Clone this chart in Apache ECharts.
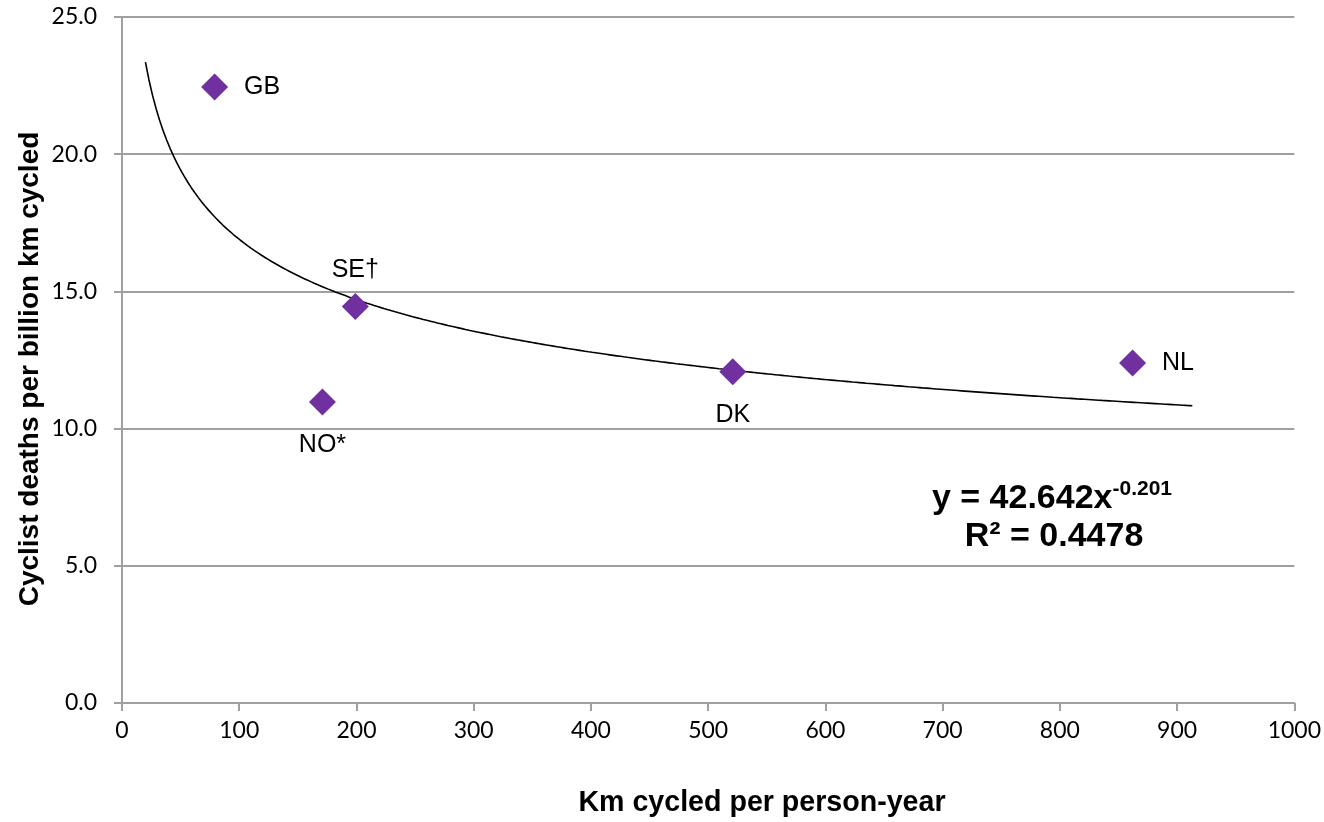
<!DOCTYPE html>
<html><head><meta charset="utf-8">
<script src="https://cdn.jsdelivr.net/npm/echarts@6/dist/echarts.min.js"></script>
<style>html,body{margin:0;padding:0;background:#fff}#c{width:1324px;height:822px}</style>
</head><body><div id="c"></div>
<script>
const countries = ['GB', 'SE†', 'NO*', 'DK', 'NL'];
const kmPerPerson = [79, 199, 171, 521, 862];
const deathsPerBillion = [22.45, 14.45, 10.97, 12.07, 12.39];
const labelPos = ['right', 'top', 'bottom', 'bottom', 'right'];
const trendCoef = 42.642;
const trendExp = -0.201;
const trendRange = [20, 913];
const yTicks = ['0.0', '5.0', '10.0', '15.0', '20.0', '25.0'];

const trend = [];
for (let x = trendRange[0]; x <= trendRange[1]; x += 3) trend.push([x, trendCoef * Math.pow(x, trendExp)]);
trend.push([trendRange[1], trendCoef * Math.pow(trendRange[1], trendExp)]);

const labelDist = { right: 16, top: 10, bottom: 17 };
const pts = kmPerPerson.map((x, i) => ({
  value: [x, deathsPerBillion[i]], name: countries[i],
  label: { position: labelPos[i], distance: labelDist[labelPos[i]] }
}));

const chart = echarts.init(document.getElementById('c'));
chart.setOption({
  animation: false,
  grid: { left: 122, right: 29, top: 17, bottom: 119, containLabel: false },
  xAxis: {
    type: 'value', min: 0, max: 1000, interval: 100,
    axisLine: { show: true, lineStyle: { color: '#a0a0a0', width: 2 } },
    axisTick: { show: true, length: 8, lineStyle: { color: '#a0a0a0', width: 2 } },
    splitLine: { show: false },
    axisLabel: { color: '#000', fontSize: 23, fontFamily: 'Lato', margin: 16, formatter: v => String(v) }
  },
  yAxis: {
    type: 'value', min: 0, max: 25, interval: 5,
    axisLine: { show: true, lineStyle: { color: '#a0a0a0', width: 2 } },
    axisTick: { show: true, length: 8, lineStyle: { color: '#a0a0a0', width: 2 } },
    splitLine: { show: true, lineStyle: { color: '#a0a0a0', width: 2 } },
    axisLabel: { color: '#000', fontSize: 23, fontFamily: 'Lato', margin: 25,
      formatter: v => yTicks[Math.round(v / 5)] }
  },
  series: [
    { type: 'line', data: trend, showSymbol: false, smooth: false,
      lineStyle: { color: '#000', width: 1.6 }, silent: true, z: 2 },
    { type: 'scatter', data: pts, symbol: 'diamond', symbolSize: 27,
      itemStyle: { color: '#7030A0', opacity: 1 }, z: 3,
      label: { show: true, formatter: p => p.name, color: '#000', opacity: 1, fontSize: 25,
        fontFamily: 'Liberation Sans' } }
  ],
  graphic: [
    { type: 'text', x: 762, y: 803, style: { text: 'Km cycled per person-year', fill: '#000',
      font: 'bold 28.6px "Liberation Sans"', align: 'center', verticalAlign: 'middle' } },
    { type: 'text', x: 30, y: 369, rotation: Math.PI / 2, style: { text: 'Cyclist deaths per billion km cycled',
      fill: '#000', font: 'bold 28px "Liberation Sans"', align: 'center', verticalAlign: 'middle' } },
    { type: 'text', x: 1052, y: 497, style: { text: '{b|y = 42.642x}{s|-0.201}', align: 'center', verticalAlign: 'middle',
      rich: { b: { font: 'bold 34px "Liberation Sans"', fill: '#000', verticalAlign: 'bottom' },
              s: { font: 'bold 21px "Liberation Sans"', fill: '#000', verticalAlign: 'top', padding: [0,0,16,0] } } } },
    { type: 'text', x: 1054, y: 537, style: { text: 'R² = 0.4478', fill: '#000',
      font: 'bold 34px "Liberation Sans"', align: 'center', verticalAlign: 'middle' } }
  ]
});
</script></body></html>
